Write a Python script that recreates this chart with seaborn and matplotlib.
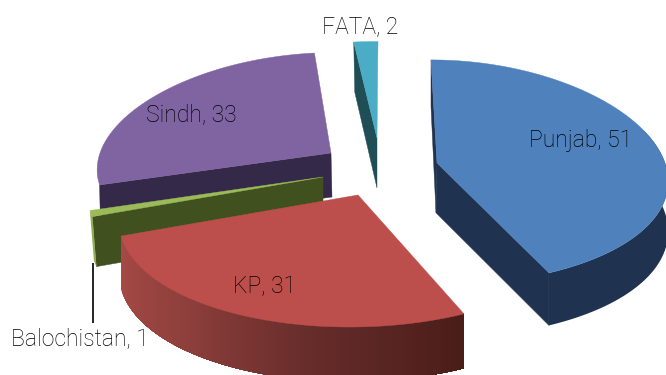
import numpy as np
import pandas as pd
import matplotlib
matplotlib.use("Agg")
import matplotlib.pyplot as plt
import seaborn as sns

# Seat counts per province, in clockwise order from twelve o'clock
regions = ["Punjab", "KP", "Balochistan", "Sindh", "FATA"]
seats = [51, 31, 1, 33, 2]

top_colors = ["#4f81bd", "#bc4f4c", "#9bbb59", "#8064a2", "#4bacc6"]
wall_colors = ["#1f3350", "#4d1f1a", "#41501f", "#35294a", "#1f4e57"]
kp_rim_stops = ["#a84a46", "#8f403c", "#662c2a", "#4a1d19"]

sns.set_theme(style="white")
plt.rcParams["font.family"] = ["Roboto", "Liberation Sans", "DejaVu Sans"]

# Projection of each exploded slice onto the page, in pixel-like axes units
projection = {
    "Punjab":      dict(apex=(437, 163), rx=228, ry=112.3, k=0.143, m=0.082, c=-6.0, d=49.8, n=0.06, sa=-1, sr=0),
    "KP":          dict(apex=(358, 195), rx=233, ry=115.4, k=0.20,  m=0.144, c=8.6,  d=52.0, n=0.05, sa=0,  sr=0),
    "Balochistan": dict(apex=(323, 177), rx=234, ry=113.0, k=0.14,  m=0.10,  c=0.0,  d=50.0, n=0.0,  sa=0,  sr=4),
    "Sindh":       dict(apex=(331, 153), rx=231, ry=108.4, k=0.14,  m=0.073, c=4.6,  d=44.0, n=0.0,  sa=1,  sr=1),
    "FATA":        dict(apex=(377, 138), rx=265, ry=106.0, k=0.14,  m=0.09,  c=1.0,  d=50.0, n=0.0,  sa=0,  sr=1),
}


def rim(p, theta, lower=False):
    """Point(s) on a slice's outer edge for clockwise angle theta in radians."""
    x, y = np.sin(theta), np.cos(theta)
    px = p["apex"][0] + p["rx"] * x * (1 - p["k"] * y) + p["c"] * y
    py = p["apex"][1] - p["ry"] * y * (1 - p["m"] * y)
    if lower:
        px = px + p["sr"]
        py = py + p["d"] * (1 - p["n"] * y)
    return px, py


def draw_wall(ax, p, theta, color, z):
    """Cut face of a slice running from the apex out to the rim at theta."""
    ax0, ay0 = p["apex"]
    tx, ty = rim(p, theta)
    bx, by = rim(p, theta, lower=True)
    ax.fill([ax0, tx, bx, ax0 + p["sa"]], [ay0, ty, by, ay0 + p["d"]],
            color=color, lw=0.3, zorder=z)


def draw_rim(ax, p, t0, t1, colors, z):
    """Outer side band; each strip runs on to the end and the next one paints over it."""
    edges = np.linspace(t0, t1, len(colors) + 1)
    for a, col in zip(edges[:-1], colors):
        arc = np.linspace(a, t1, max(2, int(abs(t1 - a) * 60)))
        tx, ty = rim(p, arc)
        bx, by = rim(p, arc[::-1], lower=True)
        ax.fill(np.r_[tx, bx], np.r_[ty, by], color=col, lw=0, zorder=z)


def draw_top(ax, p, t0, t1, color, z):
    tx, ty = rim(p, np.linspace(t0, t1, 160))
    ax.fill(np.r_[p["apex"][0], tx], np.r_[p["apex"][1], ty], color=color, lw=0.3, zorder=z)


frame = pd.DataFrame({"region": regions, "seats": seats})
frame["end"] = frame["seats"].cumsum() / frame["seats"].sum() * 2 * np.pi
frame["start"] = frame["end"] - frame["seats"] / frame["seats"].sum() * 2 * np.pi
frame["top"] = top_colors
frame["wall"] = wall_colors
slices = frame.set_index("region")

fig = plt.figure(figsize=(6.66, 3.75), dpi=100, facecolor="white")
ax = fig.add_axes([0, 0, 1, 1])
ax.set_xlim(0, 666)
ax.set_ylim(375, 0)
ax.axis("off")

# Back to front: Sindh, FATA, Punjab, Balochistan, KP
s = slices.loc["Sindh"]
draw_wall(ax, projection["Sindh"], s.start, s.wall, 1)
draw_top(ax, projection["Sindh"], s.start, s.end, s.top, 2)

s = slices.loc["FATA"]
draw_wall(ax, projection["FATA"], s.start, s.wall, 1)
draw_top(ax, projection["FATA"], s.start, s.end, s.top, 2)

s = slices.loc["Punjab"]
draw_wall(ax, projection["Punjab"], s.start, s.wall, 3)
draw_wall(ax, projection["Punjab"], s.end, s.wall, 3)
draw_rim(ax, projection["Punjab"], np.pi / 2 - 0.3, s.end, [s.wall], 3)
draw_top(ax, projection["Punjab"], s.start, s.end, s.top, 4)

s = slices.loc["Balochistan"]
draw_wall(ax, projection["Balochistan"], s.start, s.wall, 5)
draw_rim(ax, projection["Balochistan"], s.start, s.end, ["#8fae50"], 5)
draw_top(ax, projection["Balochistan"], s.start, s.end, s.top, 6)

s = slices.loc["KP"]
draw_rim(ax, projection["KP"], s.end, s.start, sns.blend_palette(kp_rim_stops, 120), 7)
draw_top(ax, projection["KP"], s.start, s.end, s.top, 8)

# Leader line for the smallest slice
ax.plot([93, 93], [263, 323], color="black", lw=1.2, solid_capstyle="butt", zorder=9)

label_xy = {
    "Punjab": (581, 141),
    "KP": (265, 287),
    "Balochistan": (80, 339),
    "Sindh": (191, 115),
    "FATA": (360, 27),
}
for name, value in zip(regions, seats):
    x, y = label_xy[name]
    ax.text(x, y, f"{name}, {value}", ha="center", va="center", fontsize=16.5,
            fontweight="light", color="black", zorder=10)

sns.despine(ax=ax, left=True, bottom=True)
fig.savefig("out.png", dpi=100, facecolor="white")
